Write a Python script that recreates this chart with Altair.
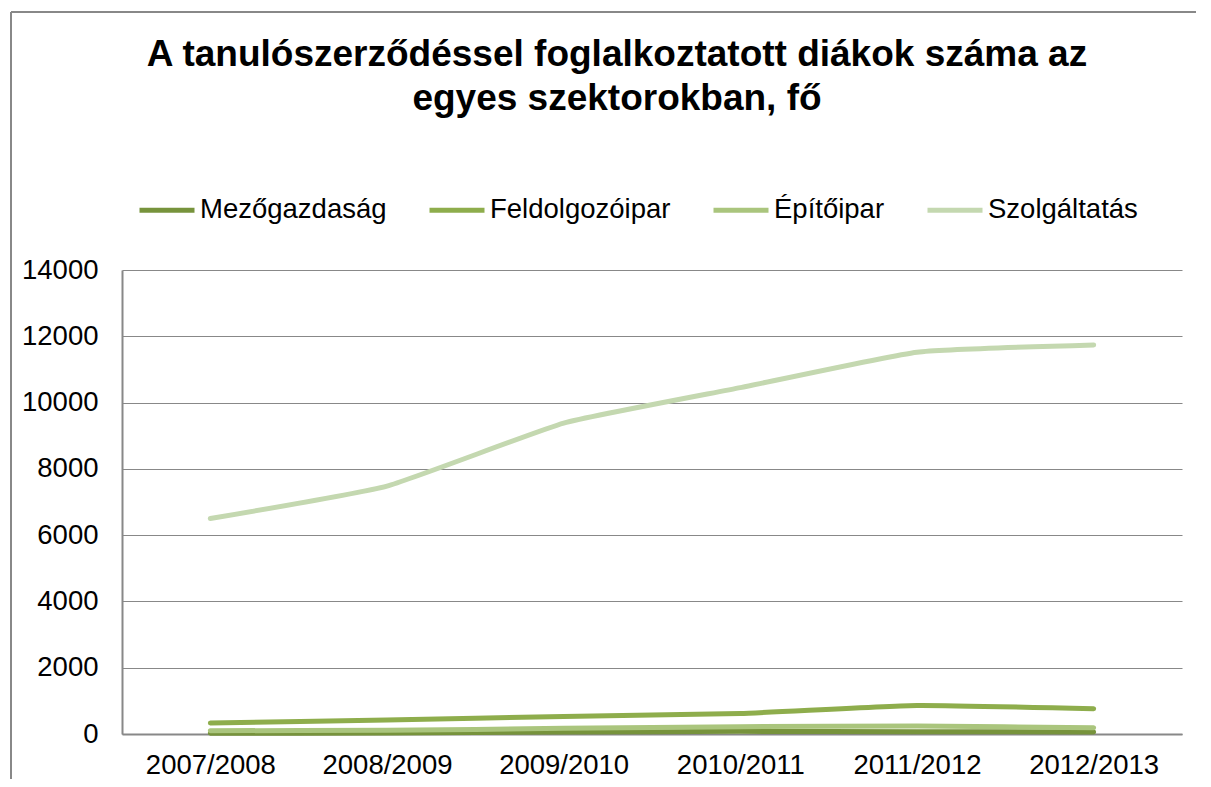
import altair as alt
import pandas as pd

years = ["2007/2008", "2008/2009", "2009/2010", "2010/2011", "2011/2012", "2012/2013"]
sectors = ["Mezőgazdaság", "Feldolgozóipar", "Építőipar", "Szolgáltatás"]
mezogazdasag = [20, 30, 60, 80, 70, 60]
feldolgozoipar = [330, 420, 530, 620, 860, 760]
epitoipar = [100, 110, 170, 220, 240, 190]
szolgaltatas = [6500, 7480, 9380, 10450, 11520, 11740]
colors = ["#77933C", "#8EAD4C", "#AAC57D", "#C4D8B0"]
y_ticks = [0, 2000, 4000, 6000, 8000, 10000, 12000, 14000]
title_lines = ["A tanulószerződéssel foglalkoztatott diákok száma az", "egyes szektorokban, fő"]

series = [mezogazdasag, feldolgozoipar, epitoipar, szolgaltatas]
rows = []
for s, vals in zip(sectors, series):
    for yr, v in zip(years, vals):
        rows.append({"Év": yr, "Szektor": s, "Fő": v})
df = pd.DataFrame(rows)

FONT = "Liberation Sans"
FS = 27.5

lines = alt.Chart(df).mark_line(strokeWidth=5, interpolate="cardinal", tension=0.6,
                                strokeCap="round", strokeJoin="round").encode(
    x=alt.X("Év:N", sort=years, title=None,
            scale=alt.Scale(type="point", padding=0.5),
            axis=alt.Axis(labelAngle=0, ticks=False, tickSize=0, labelPadding=17, grid=False,
                          domainColor="#888888", domainWidth=2, labelFontSize=FS,
                          labelColor="black", labelFont=FONT)),
    y=alt.Y("Fő:Q", title=None,
            scale=alt.Scale(domain=[0, 14000], nice=False),
            axis=alt.Axis(values=y_ticks, format="d", ticks=False, tickSize=0, labelPadding=24,
                          domainColor="#888888", domainWidth=2, gridColor="#888888",
                          gridWidth=1.2, labelFontSize=FS, labelColor="black", labelFont=FONT)),
    color=alt.Color("Szektor:N", sort=sectors,
                    scale=alt.Scale(domain=sectors, range=colors),
                    legend=alt.Legend(title=None, orient="none", direction="horizontal",
                                      legendX=15, legendY=-90, symbolType="stroke",
                                      symbolSize=3025, symbolStrokeWidth=5, labelOffset=3,
                                      columnPadding=32, labelFontSize=FS, labelFont=FONT,
                                      labelColor="black", labelLimit=500)),
    order=alt.Order("Év:N"),
)

frame_src = alt.Chart(pd.DataFrame({"a": [0]}))
frame_top = frame_src.mark_rule(stroke="#888888", strokeWidth=2, clip=False).encode(
    x=alt.value(-111), x2=alt.value(1300), y=alt.value(-258)
)
frame_left = frame_src.mark_rule(stroke="#888888", strokeWidth=2, clip=False).encode(
    x=alt.value(-111), y=alt.value(-258), y2=alt.value(600)
)

chart = alt.layer(frame_top, frame_left, lines).properties(
    width=1060,
    height=464,
    title=alt.TitleParams(text=title_lines, fontSize=37, font=FONT, fontWeight="bold",
                          color="black", anchor="middle", baseline="top",
                          offset=-107, lineHeight=44, dx=-35),
    autosize=alt.AutoSizeParams(type="none"),
    padding={"left": 114, "top": 262, "right": 14, "bottom": 45},
).configure_view(stroke=None)

chart.save("out.html", embed_options={"renderer": "svg", "actions": False})
